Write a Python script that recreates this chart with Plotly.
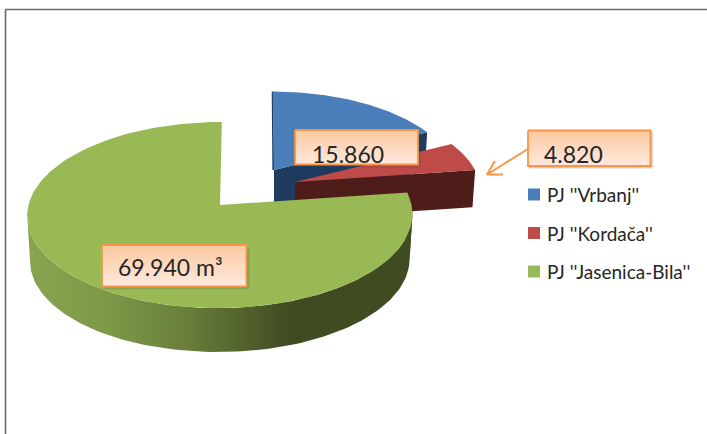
import numpy as np
import plotly.graph_objects as go

# chart data
categories = ["PJ ''Vrbanj''", "PJ ''Kordača''", "PJ ''Jasenica-Bila''"]
values = [15860, 4820, 69940]
units = ["", "", " m³"]

# styling
FONT = "Lato"
TOP_COLORS = ["#4A7EBB", "#BE4B48", "#98B954"]
WALL_COLORS = ["#1F3B5F", "#4E1C19", "#3F4B21"]
ORANGE = "#F79646"
GREEN_WALL_GRADIENT = [
    [0.0, "#88A44F"], [0.2, "#7E9A49"], [0.42, "#687D3A"],
    [0.68, "#3F4B21"], [1.0, "#3F4B21"],
]

# pie projection: disc radius, perspective, and each slice's exploded apex in px
RADIUS = 191.5
RADIUS_Y = 92.0
PERSPECTIVE = 0.1075
APEX = [(274.0, 170.0), (295.0, 182.0), (220.0, 205.0)]
SCALE = [0.945, 0.965, 1.0]
DEPTH = [38.0, 37.0, 45.5]
LEAN = [-1.5, -2.0, 2.0]
# angles where the disc outline is widest, the rim wall's silhouette runs between them
RIGHT_EXTREME = 96.2
LEFT_EXTREME = 263.8


def project(theta, slice_i, scale=1.0, drop=0.0):
    """Disc angle (deg, clockwise from 12 o'clock) to page px."""
    u, v = np.sin(np.radians(theta)), np.cos(np.radians(theta))
    f = SCALE[slice_i] * scale / (1 + PERSPECTIVE * v)
    x = APEX[slice_i][0] + f * (RADIUS * u + LEAN[slice_i] * v)
    y = APEX[slice_i][1] + drop - f * RADIUS_Y * v
    return x, y


def polygon(fig, xs, ys, color=None, gradient=None):
    trace = dict(x=list(xs), y=list(ys), mode="lines", fill="toself",
                 line=dict(width=0), hoverinfo="skip", showlegend=False)
    if gradient:
        trace["fillgradient"] = gradient
        trace["fillcolor"] = "rgba(0,0,0,0)"
    else:
        trace["fillcolor"] = color
    fig.add_trace(go.Scatter(**trace))


def rim_band(fig, i, a, b, color=None, gradient=None):
    thetas = np.linspace(a, b, 120)
    top_x, top_y = project(thetas, i)
    low_x, low_y = project(thetas, i, scale=0.985, drop=DEPTH[i])
    polygon(fig, np.r_[top_x, low_x[::-1]], np.r_[top_y, low_y[::-1]], color, gradient)


def add_slice(fig, i, start, end):
    thetas = np.linspace(start, end, 160)
    ax, ay = APEX[i]
    top_x, top_y = project(thetas, i)

    if i == 2:
        # big slice shows its outer rim, shaded left to right
        rim_band(fig, i, start, RIGHT_EXTREME, WALL_COLORS[i])
        rim_band(fig, i, RIGHT_EXTREME, LEFT_EXTREME,
                 gradient=dict(type="horizontal", colorscale=GREEN_WALL_GRADIENT))
    else:
        # exploded slices only show the cut face under their clockwise edge
        ex, ey = project(end, i)
        fx, fy = project(end, i, scale=0.985, drop=DEPTH[i])
        polygon(fig, [ax, ex, fx, ax], [ay, ey, fy, ay + DEPTH[i]], WALL_COLORS[i])
        if i == 0:
            sx, sy = project(start, i)
            polygon(fig, [ax - 1.6, sx - 1.0, sx + 0.5, ax], [ay, sy, sy, ay], WALL_COLORS[i])

    polygon(fig, np.r_[ax, top_x], np.r_[ay, top_y], TOP_COLORS[i])


def add_label(fig, x0, y0, x1, y1, text, text_x, text_y):
    # soft shadow then box with a vertical gradient
    for off, alpha in ((3, 0.10), (2, 0.16)):
        polygon(fig, [x0 + 1, x1 + off, x1 + off, x0 + 1, x0 + 1],
                [y0 + 2, y0 + 2, y1 + off, y1 + off, y0 + 2], f"rgba(60,60,60,{alpha})")
    fig.add_trace(go.Scatter(
        x=[x0, x1, x1, x0, x0], y=[y0, y0, y1, y1, y0],
        mode="lines", fill="toself", fillcolor="rgba(0,0,0,0)",
        fillgradient=dict(type="vertical", colorscale=[[0, "#FFE9DE"], [1, "#FBC99F"]]),
        line=dict(color=ORANGE, width=1.8), hoverinfo="skip", showlegend=False,
    ))
    fig.add_annotation(x=text_x, y=text_y, text=text, showarrow=False, xanchor="left",
                       yanchor="middle", font=dict(family=FONT, size=23, color="#262626"))


fig = go.Figure()

# slice angles come straight from the values
total = sum(values)
start = 0.0
for i, value in enumerate(values):
    end = start + value / total * 360
    add_slice(fig, i, start, end)
    start = end

labels = [f"{v:,}".replace(",", ".") + u for v, u in zip(values, units)]
add_label(fig, 295, 130, 418, 164.5, labels[0], 309.5, 153.5)
add_label(fig, 528, 130.5, 650.5, 166, labels[1], 542, 153.5)
add_label(fig, 102, 245, 246.5, 286.5, labels[2], 115.5, 267)

# leader arrow for the small slice
fig.add_trace(go.Scatter(
    x=[528, 487, None, 495, 487, 503], y=[149, 174.5, None, 161, 174.5, 174.5],
    mode="lines", line=dict(color=ORANGE, width=2), hoverinfo="skip", showlegend=False,
))

# legend
for i, name in enumerate(categories):
    y = 194.5 + i * 38.5
    fig.add_trace(go.Scatter(
        x=[534], y=[y], mode="markers",
        marker=dict(symbol="square", size=12, color=TOP_COLORS[i]),
        hoverinfo="skip", showlegend=False,
    ))
    fig.add_annotation(x=545, y=y, text=name, showarrow=False, xanchor="left",
                       yanchor="middle", font=dict(family=FONT, size=19, color="#262626"))

fig.update_layout(
    width=707, height=434,
    margin=dict(l=0, r=0, t=0, b=0),
    paper_bgcolor="white", plot_bgcolor="white",
    xaxis=dict(range=[0, 707], visible=False, fixedrange=True),
    yaxis=dict(range=[434, 0], visible=False, fixedrange=True),
    shapes=[
        dict(type="line", x0=5.5, x1=707, y0=9.5, y1=9.5, line=dict(color="#686868", width=1.6)),
        dict(type="line", x0=5.5, x1=5.5, y0=9.5, y1=434, line=dict(color="#686868", width=1.6)),
    ],
)

fig.write_html("out.html", config=dict(displayModeBar=False),
               post_script="document.body.style.margin='0';")
